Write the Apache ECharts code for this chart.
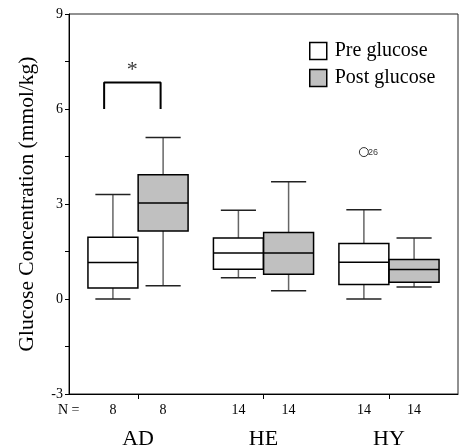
<!DOCTYPE html>
<html style="height: 100%">
<head>
<meta charset="utf-8">
<script src="https://cdn.jsdelivr.net/npm/echarts@6.0.0/dist/echarts.min.js"></script>
</head>
<body style="height: 100%; margin: 0; background: #fff">
<div id="container" style="width: 463px; height: 446px"></div>
<script type="text/javascript">
// group names and sample sizes
var categories = ['AD', 'HE', 'HY'];
var groupPos = [1, 2, 3];
var nPre = [8, 14, 14];
var nPost = [8, 14, 14];

// box stats: [whisker low, Q1, median, Q3, whisker high]
var preStats = [
    [0.0, 0.35, 1.15, 1.95, 3.3],
    [0.67, 0.94, 1.45, 1.93, 2.8],
    [0.0, 0.46, 1.16, 1.75, 2.82]
];
var postStats = [
    [0.42, 2.15, 3.03, 3.92, 5.1],
    [0.26, 0.78, 1.45, 2.1, 3.7],
    [0.38, 0.53, 0.93, 1.25, 1.93]
];

// outlier in HY pre group
var outliers = [[2.8, 4.64, '26']];

// significance bracket over AD
var bracket = [[0.73, 6.0], [0.73, 6.84], [1.18, 6.84], [1.18, 6.0]];
var starPoint = [[0.955, 7.22]];

var offset = 0.2;
var halfBox = 0.199;
var halfCap = 0.14;
var serif = 'Liberation Serif';

function boxData(stats, shift) {
    return stats.map(function (s, i) {
        return [groupPos[i] + shift].concat(s);
    });
}

function makeRender(fill) {
    return function (params, api) {
        var x = api.value(0);
        var lo = api.coord([x, api.value(1)]);
        var q1 = api.coord([x, api.value(2)]);
        var md = api.coord([x, api.value(3)]);
        var q3 = api.coord([x, api.value(4)]);
        var hi = api.coord([x, api.value(5)]);
        var bl = api.coord([x - halfBox, 0])[0];
        var br = api.coord([x + halfBox, 0])[0];
        var cl = api.coord([x - halfCap, 0])[0];
        var cr = api.coord([x + halfCap, 0])[0];
        var cx = lo[0];
        var stem = { stroke: '#666', lineWidth: 1.5 };
        var cap = { stroke: '#222', lineWidth: 1.5 };
        return {
            type: 'group',
            children: [
                { type: 'line', shape: { x1: cx, y1: hi[1], x2: cx, y2: q3[1] }, style: stem },
                { type: 'line', shape: { x1: cx, y1: q1[1], x2: cx, y2: lo[1] }, style: stem },
                { type: 'line', shape: { x1: cl, y1: hi[1], x2: cr, y2: hi[1] }, style: cap },
                { type: 'line', shape: { x1: cl, y1: lo[1], x2: cr, y2: lo[1] }, style: cap },
                { type: 'rect', shape: { x: bl, y: q3[1], width: br - bl, height: q1[1] - q3[1] },
                  style: { fill: fill, stroke: '#000', lineWidth: 1.5 } },
                { type: 'line', shape: { x1: bl, y1: md[1], x2: br, y2: md[1] },
                  style: { stroke: '#000', lineWidth: 1.5 } }
            ]
        };
    };
}

var nLabels = {};
groupPos.forEach(function (g, i) {
    nLabels[(g - offset).toFixed(2)] = nPre[i];
    nLabels[(g + offset).toFixed(2)] = nPost[i];
});
var nValues = Object.keys(nLabels).map(Number);

var myChart = echarts.init(document.getElementById('container'));
var option = {
    animation: false,
    grid: {
        left: 69, right: 5, top: 14, bottom: 52,
        outerBoundsMode: 'none',
        show: true, borderColor: '#222', borderWidth: 1
    },
    legend: {
        orient: 'vertical',
        left: 304,
        top: 36,
        itemWidth: 17,
        itemHeight: 17,
        itemGap: 7,
        textStyle: { fontFamily: serif, fontSize: 20, color: '#000', padding: [0, 0, 0, 3] },
        data: [
            { name: 'Pre glucose', icon: 'rect', itemStyle: { color: '#fff', borderColor: '#000', borderWidth: 1.5 } },
            { name: 'Post glucose', icon: 'rect', itemStyle: { color: '#c0c0c0', borderColor: '#000', borderWidth: 1.5 } }
        ]
    },
    xAxis: [{
        type: 'value',
        min: 0.45,
        max: 3.55,
        splitLine: { show: false },
        axisLine: { onZero: false, lineStyle: { color: '#000', width: 1 } },
        axisTick: { customValues: groupPos, length: 5, lineStyle: { color: '#000' } },
        axisLabel: {
            customValues: groupPos,
            formatter: function (v) { return categories[Math.round(v) - 1]; },
            fontFamily: serif, fontSize: 22, color: '#000', margin: 34
        }
    }, {
        type: 'value',
        min: 0.45,
        max: 3.55,
        position: 'bottom',
        splitLine: { show: false },
        axisLine: { show: false, onZero: false },
        axisTick: { show: false },
        axisLabel: {
            customValues: nValues,
            formatter: function (v) { return nLabels[v.toFixed(2)]; },
            fontFamily: serif, fontSize: 14, color: '#000', margin: 9
        }
    }],
    yAxis: {
        type: 'value',
        min: -3,
        max: 9,
        interval: 1.5,
        name: 'Glucose Concentration (mmol/kg)',
        nameLocation: 'middle',
        nameGap: 31,
        nameTextStyle: { fontFamily: serif, fontSize: 21.5, color: '#000' },
        splitLine: { show: false },
        axisLine: { lineStyle: { color: '#000', width: 1 } },
        axisTick: { length: 4, lineStyle: { color: '#000' } },
        axisLabel: {
            formatter: function (v) { return v % 3 === 0 ? String(v) : ''; },
            fontFamily: serif, fontSize: 14, color: '#000', margin: 6
        }
    },
    graphic: [{
        type: 'text', left: 58, top: 403,
        style: { text: 'N =', fontFamily: serif, fontSize: 14, fill: '#000' }
    }],
    series: [{
        name: 'Pre glucose',
        type: 'custom',
        renderItem: makeRender('#fff'),
        encode: { x: 0, y: [1, 2, 3, 4, 5] },
        data: boxData(preStats, -offset),
        itemStyle: { color: '#fff' }
    }, {
        name: 'Post glucose',
        type: 'custom',
        renderItem: makeRender('#c0c0c0'),
        encode: { x: 0, y: [1, 2, 3, 4, 5] },
        data: boxData(postStats, offset),
        itemStyle: { color: '#c0c0c0' }
    }, {
        type: 'scatter',
        data: outliers,
        symbol: 'circle',
        symbolSize: 9,
        itemStyle: { color: '#fff', borderColor: '#000', borderWidth: 1 },
        label: {
            show: true, position: 'right', distance: -1,
            formatter: function (p) { return p.data[2]; },
            fontFamily: 'Liberation Sans', fontSize: 9, color: '#000'
        }
    }, {
        type: 'line',
        data: bracket,
        symbol: 'none',
        lineStyle: { color: '#000', width: 2 }
    }, {
        type: 'scatter',
        data: starPoint,
        symbolSize: 0,
        label: {
            show: true, position: 'inside', formatter: '*',
            fontFamily: serif, fontSize: 22, color: '#000'
        }
    }]
};
myChart.setOption(option);
</script>
</body>
</html>
